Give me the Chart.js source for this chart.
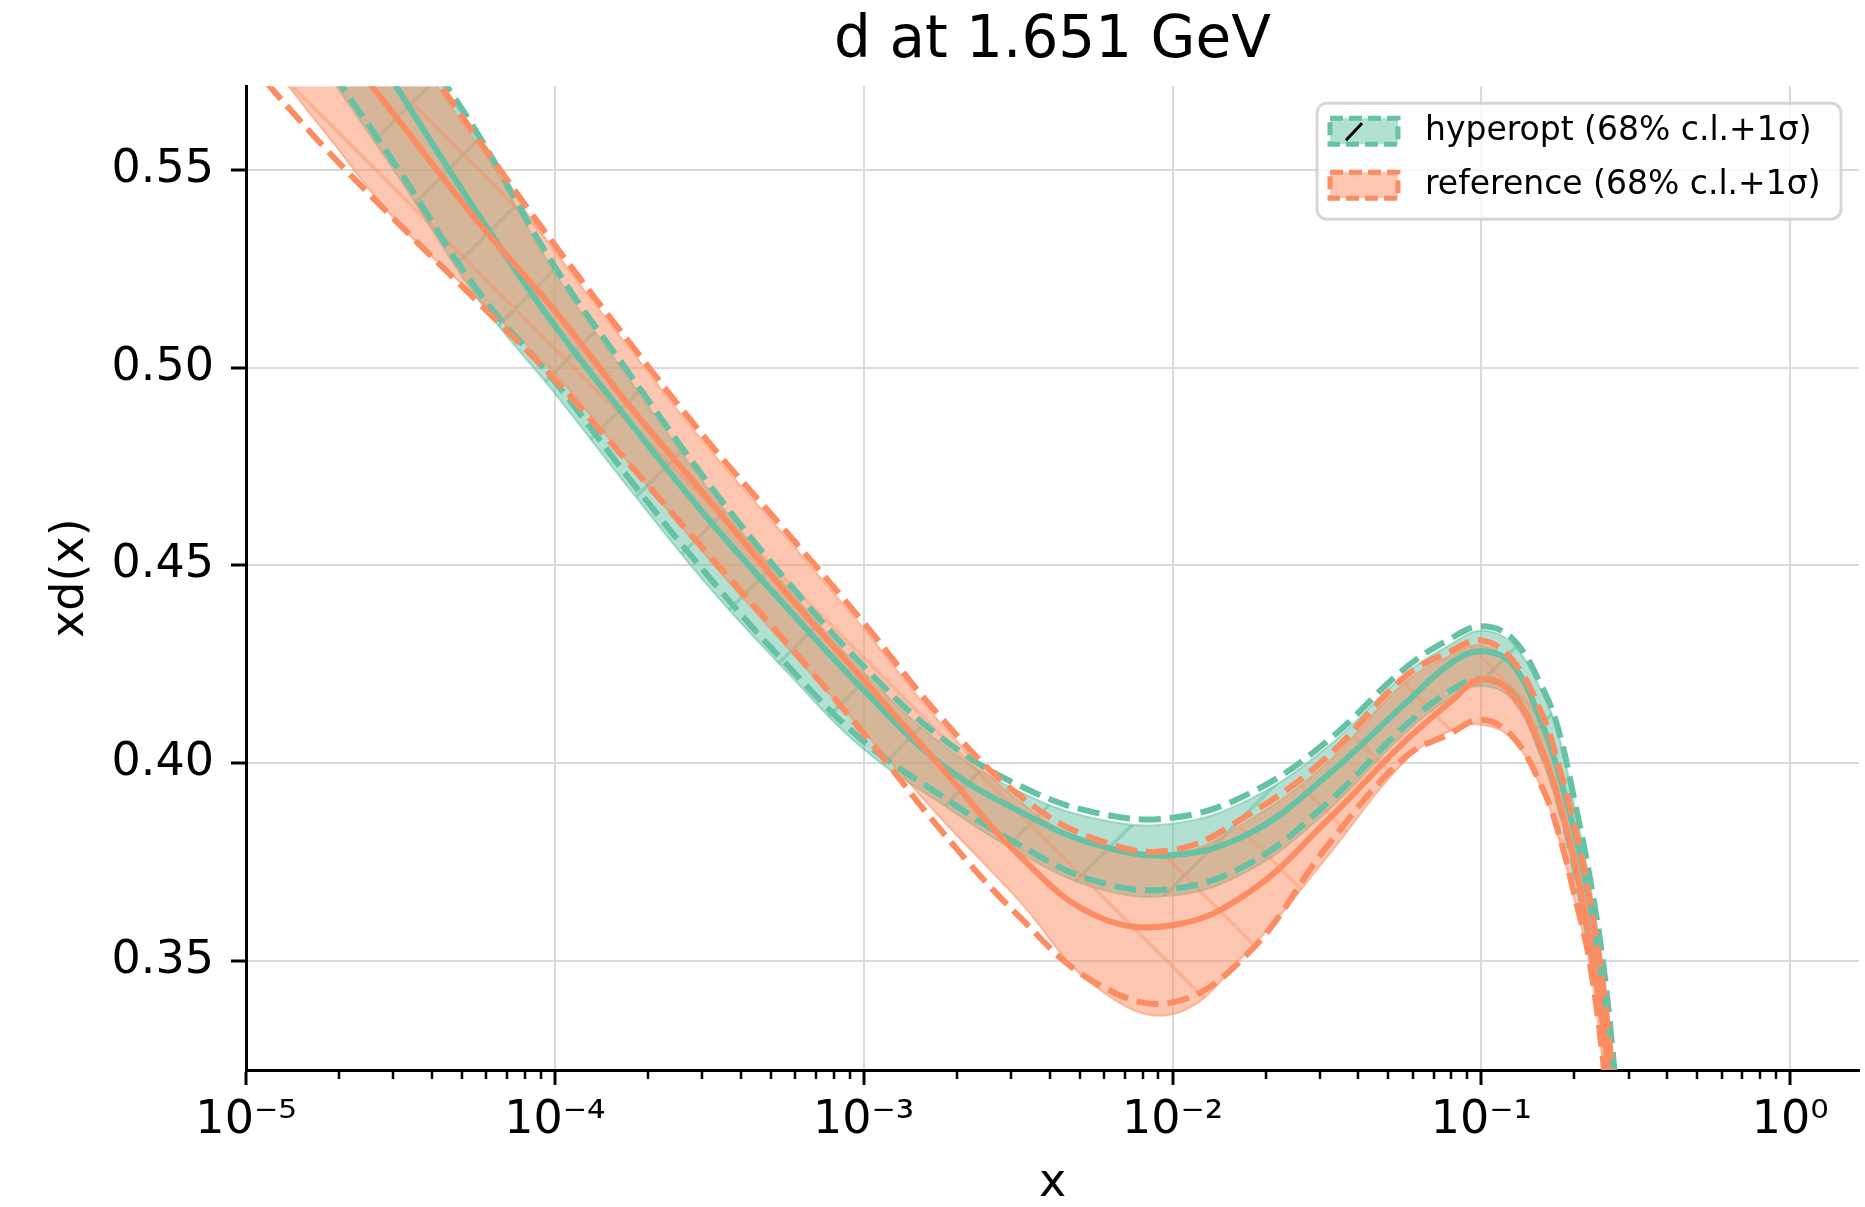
<!DOCTYPE html>
<html>
<head>
<meta charset="utf-8">
<title>d at 1.651 GeV</title>
<script src="https://cdn.jsdelivr.net/npm/chart.js@4.4.1/dist/chart.umd.min.js"></script>
<style>
  html, body { margin: 0; padding: 0; background: #ffffff; }
</style>
</head>
<body>
<canvas id="pdfChart" width="1865" height="1207"></canvas>
<script>
// sample points in x (log spaced, 1e-5 .. 0.316)
const xs = [1e-5, 1.78e-5, 3.16e-5, 5.62e-5, 1e-4, 1.78e-4, 3.16e-4, 5.62e-4, 1e-3, 1.78e-3, 3.16e-3, 5.62e-3,
  1e-2, 1.78e-2, 3.16e-2, 5.62e-2, 0.0794, 0.1, 0.126, 0.158, 0.178, 0.2, 0.224, 0.251, 0.282, 0.316];

// hyperopt: central value, 1 sigma (dashed), 68% c.l. band
const hypCentral = [0.633, 0.601, 0.5695, 0.539, 0.5106, 0.4855, 0.4615, 0.4395, 0.4185, 0.3998, 0.388, 0.3795,
  0.3768, 0.3823, 0.3968, 0.4148, 0.4252, 0.4283, 0.425, 0.4095, 0.3975, 0.3828, 0.365, 0.3395, 0.297, 0.25];
const hypUpper = [0.655, 0.622, 0.589, 0.5592, 0.5255, 0.4975, 0.4705, 0.4462, 0.4245, 0.4065, 0.3945, 0.3875,
  0.3862, 0.3924, 0.4055, 0.4238, 0.4315, 0.4346, 0.4315, 0.4189, 0.4082, 0.3907, 0.3715, 0.346, 0.305, 0.26];
const hypLower = [0.607, 0.578, 0.5495, 0.5195, 0.4965, 0.471, 0.447, 0.425, 0.4055, 0.3918, 0.3795, 0.3702,
  0.3682, 0.3747, 0.3898, 0.4092, 0.4183, 0.4212, 0.4178, 0.4022, 0.39, 0.3739, 0.3545, 0.331, 0.29, 0.245];
const hypBandUp = [0.6535, 0.6205, 0.5875, 0.5577, 0.524, 0.496, 0.469, 0.4447, 0.423, 0.405, 0.393, 0.386,
  0.3847, 0.3909, 0.404, 0.4223, 0.43, 0.4335, 0.4302, 0.4176, 0.407, 0.3892, 0.37, 0.3445, 0.303, 0.258];
const hypBandLow = [0.605, 0.576, 0.5475, 0.5175, 0.4935, 0.4685, 0.4445, 0.4232, 0.4035, 0.3898, 0.3775, 0.3685,
  0.3665, 0.373, 0.3878, 0.4073, 0.4165, 0.4195, 0.416, 0.4005, 0.3882, 0.3722, 0.3525, 0.329, 0.288, 0.243];

// reference fit
const refCentral = [0.612, 0.587, 0.562, 0.537, 0.5144, 0.4895, 0.4665, 0.443, 0.421, 0.399, 0.377, 0.3615,
  0.359, 0.3675, 0.3854, 0.4053, 0.4155, 0.4212, 0.4175, 0.4027, 0.3907, 0.3753, 0.3556, 0.33, 0.29, 0.24];
const refUpper = [0.641, 0.613, 0.586, 0.558, 0.531, 0.5055, 0.481, 0.4585, 0.4355, 0.4115, 0.3921, 0.3808,
  0.378, 0.3872, 0.4015, 0.4217, 0.4283, 0.431, 0.4261, 0.412, 0.3994, 0.3844, 0.3657, 0.34, 0.30, 0.255];
const refLower = [0.578, 0.556, 0.536, 0.5167, 0.497, 0.4748, 0.4525, 0.4305, 0.4075, 0.383, 0.3615, 0.3445,
  0.3395, 0.3524, 0.3789, 0.4013, 0.4075, 0.411, 0.4068, 0.3935, 0.3822, 0.3667, 0.3498, 0.321, 0.283, 0.235];
const refBandUp = [0.6395, 0.6115, 0.5845, 0.5565, 0.5295, 0.504, 0.4795, 0.457, 0.434, 0.41, 0.3906, 0.3793,
  0.3768, 0.3857, 0.4, 0.4202, 0.4272, 0.4298, 0.4248, 0.4107, 0.3982, 0.3832, 0.3645, 0.3385, 0.298, 0.253];
const refBandLow = [0.585, 0.560, 0.536, 0.5175, 0.4985, 0.4748, 0.4515, 0.4295, 0.408, 0.386, 0.3655, 0.3435,
  0.3365, 0.353, 0.3762, 0.4003, 0.4082, 0.4097, 0.406, 0.393, 0.381, 0.3655, 0.349, 0.32, 0.282, 0.234];

const yTicks = [0.35, 0.40, 0.45, 0.50, 0.55];
const xDecades = [1e-5, 1e-4, 1e-3, 1e-2, 1e-1, 1];
const xRange = [1e-5, 1.67];
const yRange = [0.3224, 0.5712];
const seriesNames = ['hyperopt (68% c.l.+1σ)', 'reference (68% c.l.+1σ)'];

const FONT = 'DejaVu Sans';
const GREEN = 'rgb(102,194,165)';
const GREEN_A = 'rgba(102,194,165,0.5)';
const ORANGE = 'rgb(252,141,98)';
const ORANGE_A = 'rgba(252,141,98,0.5)';
const DASH = [22, 9];

function pts(arr) {
  return arr.map((y, i) => ({ x: xs[i], y: y }));
}

function isDecade(v) {
  const l = Math.log10(v);
  return Math.abs(l - Math.round(l)) < 1e-6;
}

const SUP = { '-': '⁻', '0': '⁰', '1': '¹', '2': '²', '3': '³', '4': '⁴', '5': '⁵', '6': '⁶', '7': '⁷', '8': '⁸', '9': '⁹' };
function decadeLabel(v) {
  const e = String(Math.round(Math.log10(v)));
  return '10' + e.split('').map(ch => SUP[ch]).join('');
}

// hatched fill, like the matplotlib hatch of the bands
function hatch(fill, line, dir) {
  const size = 103;
  const c = document.createElement('canvas');
  c.width = size; c.height = size;
  const g = c.getContext('2d');
  g.fillStyle = fill;
  g.fillRect(0, 0, size, size);
  g.strokeStyle = line;
  g.lineWidth = 3.5;
  g.beginPath();
  [-size, 0, size].forEach(k => {
    if (dir === '/') { g.moveTo(k, size); g.lineTo(k + size, 0); }
    else { g.moveTo(k, 0); g.lineTo(k + size, size); }
  });
  g.stroke();
  return g.createPattern(c, 'repeat');
}

const xTickValues = [];
xDecades.forEach(d => {
  for (let m = 1; m <= 9; m++) {
    const v = m * d;
    if (v <= xRange[1] * 1.0001) xTickValues.push(v);
  }
});

function lineSet(data, color, dashed, order) {
  return {
    data: pts(data), borderColor: color, borderWidth: 6, borderDash: dashed ? DASH : [],
    pointRadius: 0, tension: 0.4, fill: false, order: order, clip: 0
  };
}

function bandEdge(data, color, order, fillStyle) {
  return {
    data: pts(data), borderColor: color, borderWidth: 2, pointRadius: 0, tension: 0.4,
    backgroundColor: fillStyle || 'rgba(0,0,0,0)', fill: fillStyle ? '-1' : false, order: order, clip: 0
  };
}

const datasets = [
  lineSet(refCentral, ORANGE, false, 0),
  lineSet(refUpper, ORANGE, true, 1),
  lineSet(refLower, ORANGE, true, 2),
  lineSet(hypCentral, GREEN, false, 3),
  lineSet(hypUpper, GREEN, true, 4),
  lineSet(hypLower, GREEN, true, 5),
  bandEdge(refBandLow, ORANGE_A, 6),
  bandEdge(refBandUp, ORANGE_A, 7, hatch(ORANGE_A, 'rgba(252,141,98,0.35)', '\\')),
  bandEdge(hypBandLow, GREEN_A, 8),
  bandEdge(hypBandUp, GREEN_A, 9, hatch(GREEN_A, 'rgba(102,194,165,0.5)', '/'))
];

// short minor ticks on the log axis
const minorTicks = {
  id: 'minorTicks',
  afterDraw(chart) {
    const s = chart.scales.x;
    const c = chart.ctx;
    c.save();
    c.strokeStyle = '#000';
    c.lineWidth = 2.5;
    s.ticks.forEach(t => {
      if (isDecade(t.value)) return;
      const px = Math.round(s.getPixelForValue(t.value));
      c.beginPath();
      c.moveTo(px, s.top);
      c.lineTo(px, s.top + 9);
      c.stroke();
    });
    c.restore();
  }
};

// matplotlib style legend in the upper right corner
const legendBox = {
  id: 'legendBox',
  afterDraw(chart) {
    const c = chart.ctx;
    const area = chart.chartArea;
    const w = 524, h = 116;
    const x0 = area.right - 18 - w, y0 = area.top + 17;
    c.save();
    c.beginPath();
    c.roundRect(x0, y0, w, h, 10);
    c.fillStyle = 'rgba(255,255,255,0.8)';
    c.fill();
    c.lineWidth = 3;
    c.strokeStyle = 'rgba(204,204,204,0.8)';
    c.stroke();

    const entries = [
      { fill: GREEN_A, edge: GREEN, hatch: true },
      { fill: ORANGE_A, edge: ORANGE, hatch: false }
    ];
    entries.forEach((e, i) => {
      const cy = y0 + 28 + i * 54;
      const px = x0 + 13, pw = 68, ph = 26;
      c.fillStyle = e.fill;
      c.fillRect(px, cy - ph / 2, pw, ph);
      c.setLineDash([13, 6]);
      c.lineWidth = 5;
      c.strokeStyle = e.edge;
      c.strokeRect(px, cy - ph / 2, pw, ph);
      c.setLineDash([]);
      if (e.hatch) {
        c.strokeStyle = '#000';
        c.lineWidth = 3;
        c.beginPath();
        c.moveTo(px + 16, cy + 9);
        c.lineTo(px + 32, cy - 8);
        c.stroke();
      }
      c.fillStyle = '#000';
      c.font = '33px "' + FONT + '"';
      c.textBaseline = 'middle';
      c.textAlign = 'left';
      c.fillText(seriesNames[i], x0 + 108, cy);
    });
    c.restore();
  }
};

const ctx = document.getElementById('pdfChart').getContext('2d');
new Chart(ctx, {
  type: 'line',
  data: { datasets: datasets },
  options: {
    responsive: false,
    animation: false,
    events: [],
    layout: { padding: { left: 0, right: 6, top: 0, bottom: 0 } },
    plugins: {
      legend: { display: false },
      tooltip: { enabled: false },
      title: {
        display: true,
        text: 'd at 1.651 GeV',
        fullSize: false,
        color: '#000',
        font: { family: FONT, size: 58, weight: 'normal', lineHeight: 1.2 },
        padding: { top: 7, bottom: 9.6 }
      }
    },
    scales: {
      x: {
        type: 'logarithmic',
        min: xRange[0],
        max: xRange[1],
        afterBuildTicks: s => { s.ticks = xTickValues.map(v => ({ value: v })); },
        afterFit: s => { s.height = 137; },
        ticks: {
          autoSkip: false, maxRotation: 0, minRotation: 0, padding: 8, color: '#000',
          font: { family: FONT, size: 46 },
          callback: v => (isDecade(v) ? decadeLabel(v) : '')
        },
        grid: {
          color: c => (c.tick && isDecade(c.tick.value) ? '#dadada' : 'rgba(0,0,0,0)'),
          lineWidth: 2,
          tickLength: 15,
          tickWidth: 3,
          tickColor: c => (c.tick && isDecade(c.tick.value) ? '#000' : 'rgba(0,0,0,0)')
        },
        border: { color: '#000', width: 3 },
        title: {
          display: true, text: 'x', color: '#000',
          font: { family: FONT, size: 46, lineHeight: 1 },
          padding: { top: 0, bottom: 0 }
        }
      },
      y: {
        type: 'linear',
        min: yRange[0],
        max: yRange[1],
        afterBuildTicks: s => { s.ticks = yTicks.map(v => ({ value: v })); },
        afterFit: s => { s.width = 246; },
        ticks: {
          padding: 17, color: '#000',
          font: { family: FONT, size: 46 },
          callback: v => Number(v).toFixed(2)
        },
        grid: { color: '#dadada', lineWidth: 2, tickLength: 15, tickWidth: 3, tickColor: '#000' },
        border: { color: '#000', width: 3 },
        title: {
          display: true, text: 'xd(x)', color: '#000',
          font: { family: FONT, size: 46, lineHeight: 1.2 },
          padding: { top: 43, bottom: 0 }
        }
      }
    }
  },
  plugins: [minorTicks, legendBox]
});
</script>
</body>
</html>
